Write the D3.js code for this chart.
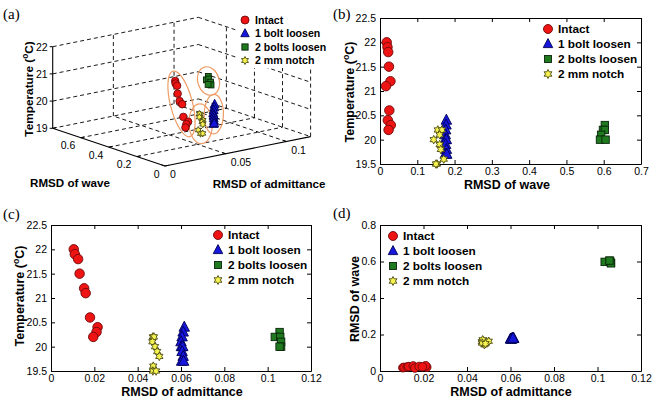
<!DOCTYPE html>
<html><head><meta charset="utf-8">
<script src="https://cdn.jsdelivr.net/npm/d3@7"></script>
<style>
body{margin:0;background:#fff;}
svg text{font-family:"Liberation Sans",Arial,sans-serif;fill:#000;}
</style></head><body>
<svg id="chart" width="660" height="405"></svg>
<script>
// ---------------- data ----------------
const seriesNames = ["Intact", "1 bolt loosen", "2 bolts loosen", "2 mm notch"];

const intactTemp = [22.0, 21.9, 21.8, 21.5, 21.2, 21.1, 20.6, 20.4, 20.3, 20.2];
const intactAdm  = [0.0105, 0.011, 0.0125, 0.0132, 0.0153, 0.016, 0.018, 0.0215, 0.021, 0.0195];
const intactWave = [0.018, 0.02, 0.022, 0.024, 0.028, 0.016, 0.025, 0.021, 0.029, 0.023];

const bolt1Temp = [20.4, 20.3, 20.2, 20.1, 20.0, 20.0, 19.9, 19.8, 19.7, 19.7];
const bolt1Adm  = [0.0615, 0.061, 0.0605, 0.060, 0.0602, 0.0608, 0.0605, 0.061, 0.0603, 0.0612];
const bolt1Wave = [0.178, 0.177, 0.176, 0.175, 0.175, 0.178, 0.176, 0.178, 0.175, 0.179];

const bolt2Temp = [20.3, 20.2, 20.2, 20.1, 20.0, 20.0];
const bolt2Adm  = [0.1055, 0.1033, 0.1058, 0.1062, 0.1062, 0.1055];
const bolt2Wave = [0.603, 0.598, 0.603, 0.593, 0.59, 0.605];

const notchTemp = [20.2, 20.2, 20.1, 20.0, 19.9, 19.8, 19.6, 19.5, 19.5];
const notchAdm  = [0.047, 0.0475, 0.0468, 0.048, 0.049, 0.050, 0.0472, 0.047, 0.0485];
const notchWave = [0.155, 0.166, 0.16, 0.144, 0.16, 0.163, 0.171, 0.153, 0.15];

const waveTicks = [0, 0.1, 0.2, 0.3, 0.4, 0.5, 0.6, 0.7];
const waveTickLabels = ["0", "0.1", "0.2", "0.3", "0.4", "0.5", "0.6", "0.7"];
const admTicks = [0, 0.02, 0.04, 0.06, 0.08, 0.1, 0.12];
const admTickLabels = ["0", "0.02", "0.04", "0.06", "0.08", "0.1", "0.12"];
const tempTicks = [19.5, 20, 20.5, 21, 21.5, 22, 22.5];
const tempTickLabels = ["19.5", "20", "20.5", "21", "21.5", "22", "22.5"];
const waveTicksD = [0, 0.2, 0.4, 0.6, 0.8];
const waveTickLabelsD = ["0", "0.2", "0.4", "0.6", "0.8"];

// 3D panel ticks
const wave3Ticks = [0, 0.2, 0.4, 0.6];
const wave3TickLabels = ["0", "0.2", "0.4", "0.6"];
const adm3Ticks = [0, 0.05, 0.1];
const adm3TickLabels = ["0", "0.05", "0.1"];
const temp3Ticks = [19, 20, 21, 22];
const temp3TickLabels = ["19", "20", "21", "22"];

// ---------------- styles ----------------
const series = [
  {name: seriesNames[0], type: "circle",   temp: intactTemp, adm: intactAdm, wave: intactWave, fill: "#ee1414", stroke: "#6e0808"},
  {name: seriesNames[1], type: "triangle", temp: bolt1Temp,  adm: bolt1Adm,  wave: bolt1Wave,  fill: "#1616dc", stroke: "#000055"},
  {name: seriesNames[2], type: "square",   temp: bolt2Temp,  adm: bolt2Adm,  wave: bolt2Wave,  fill: "#1f7a1f", stroke: "#0a250a"},
  {name: seriesNames[3], type: "hexagram", temp: notchTemp,  adm: notchAdm,  wave: notchWave,  fill: "#f6f250", stroke: "#4a4a10"}
];

const svg = d3.select("#chart");

function hexPath(R) {
  const r = R * 0.55, pts = [];
  for (let i = 0; i < 12; i++) {
    const ang = -Math.PI / 2 + i * Math.PI / 6;
    const rr = i % 2 === 0 ? R : r;
    pts.push([rr * Math.cos(ang), rr * Math.sin(ang)]);
  }
  return "M" + pts.map(p => p[0].toFixed(2) + "," + p[1].toFixed(2)).join("L") + "Z";
}

function marker(g, s, x, y, size) {
  let el;
  if (s.type === "circle") {
    el = g.append("circle").attr("cx", x).attr("cy", y).attr("r", size / 2);
  } else if (s.type === "triangle") {
    const w = size * 1.05, h = size;
    el = g.append("path").attr("d", `M${x},${y - h * 0.6}L${x + w / 2},${y + h * 0.4}L${x - w / 2},${y + h * 0.4}Z`);
  } else if (s.type === "square") {
    const a = size * 0.78;
    el = g.append("rect").attr("x", x - a / 2).attr("y", y - a / 2).attr("width", a).attr("height", a);
  } else {
    el = g.append("path").attr("d", hexPath(size * 0.5)).attr("transform", `translate(${x},${y})`);
  }
  el.attr("fill", s.fill).attr("stroke", s.stroke).attr("stroke-width", 0.9);
}

function legend(g, x, y0, dy, fs, msize) {
  series.forEach((s, i) => {
    const yy = y0 + i * dy;
    marker(g, s, x, yy, msize);
    g.append("text").attr("x", x + 10).attr("y", yy + fs * 0.36)
      .attr("font-size", fs).attr("font-weight", "bold").text(s.name);
  });
}

function tempTitle(g, x, y, fs) {
  const t = g.append("text").attr("transform", `translate(${x},${y}) rotate(-90)`)
    .attr("text-anchor", "middle").attr("font-size", fs).attr("font-weight", "bold");
  t.append("tspan").text("Temperature (");
  t.append("tspan").attr("font-size", fs * 0.7).attr("dy", -fs * 0.4).text("o");
  t.append("tspan").attr("dy", fs * 0.4).text("C)");
}

function panelLabel(x, y, txt) {
  svg.append("text").attr("x", x).attr("y", y).attr("font-size", 15)
    .style("font-family", "'Liberation Serif','Times New Roman',serif").text(txt);
}

// ---------------- 2D panels ----------------
function panel2D(cfg) {
  const g = svg.append("g");
  const x = d3.scaleLinear(cfg.xDomain, [cfg.left, cfg.right]);
  const y = d3.scaleLinear(cfg.yDomain, [cfg.bottom, cfg.top]);
  const style = sel => {
    sel.attr("font-size", 10.5).attr("font-family", "'Liberation Sans',Arial,sans-serif");
    sel.select(".domain").attr("stroke", "#000").attr("stroke-width", 1);
    sel.selectAll(".tick line").attr("stroke", "#000");
  };
  g.append("g").attr("transform", `translate(0,${cfg.bottom})`)
    .call(d3.axisBottom(x).tickValues(cfg.xTicks).tickFormat((d, i) => cfg.xLabels[i])
      .tickSizeInner(-4).tickSizeOuter(0).tickPadding(4)).call(style);
  g.append("g").attr("transform", `translate(0,${cfg.top})`)
    .call(d3.axisTop(x).tickValues(cfg.xTicks).tickFormat(() => "")
      .tickSizeInner(-4).tickSizeOuter(0)).call(style);
  g.append("g").attr("transform", `translate(${cfg.left},0)`)
    .call(d3.axisLeft(y).tickValues(cfg.yTicks).tickFormat((d, i) => cfg.yLabels[i])
      .tickSizeInner(-4).tickSizeOuter(0).tickPadding(4)).call(style);
  g.append("g").attr("transform", `translate(${cfg.right},0)`)
    .call(d3.axisRight(y).tickValues(cfg.yTicks).tickFormat(() => "")
      .tickSizeInner(-4).tickSizeOuter(0)).call(style);

  const pts = g.append("g");
  series.forEach(s => {
    const xs = s[cfg.xKey], ys = s[cfg.yKey];
    xs.forEach((v, i) => marker(pts, s, x(v), y(ys[i]), cfg.msize[s.type]));
  });

  g.append("text").attr("x", cfg.xTitlePos[0]).attr("y", cfg.xTitlePos[1])
    .attr("text-anchor", "middle").attr("font-size", 12.5).attr("font-weight", "bold").text(cfg.xTitle);
  if (cfg.yTitle === "temp") tempTitle(g, cfg.yTitlePos[0], cfg.yTitlePos[1], 12.5);
  else g.append("text").attr("transform", `translate(${cfg.yTitlePos[0]},${cfg.yTitlePos[1]}) rotate(-90)`)
    .attr("text-anchor", "middle").attr("font-size", 12.5).attr("font-weight", "bold").text(cfg.yTitle);

  legend(g.append("g"), cfg.legend[0], cfg.legend[1], 15, 11.8, 9);
}

const msizeBC = {circle: 9.5, triangle: 10, square: 9.5, hexagram: 8.5};

panel2D({
  left: 380, right: 641, top: 18, bottom: 164,
  xDomain: [0, 0.7], yDomain: [19.5, 22.5],
  xTicks: waveTicks, xLabels: waveTickLabels, yTicks: tempTicks, yLabels: tempTickLabels,
  xKey: "wave", yKey: "temp", msize: msizeBC,
  xTitle: "RMSD of wave", xTitlePos: [507, 188.5], yTitle: "temp", yTitlePos: [354, 92],
  legend: [548, 29]
});

panel2D({
  left: 51, right: 311, top: 225, bottom: 371,
  xDomain: [0, 0.12], yDomain: [19.5, 22.5],
  xTicks: admTicks, xLabels: admTickLabels, yTicks: tempTicks, yLabels: tempTickLabels,
  xKey: "adm", yKey: "temp", msize: msizeBC,
  xTitle: "RMSD of admittance", xTitlePos: [182, 395.5], yTitle: "temp", yTitlePos: [24, 296],
  legend: [218, 235]
});

panel2D({
  left: 380, right: 641, top: 225, bottom: 371,
  xDomain: [0, 0.12], yDomain: [0, 0.8],
  xTicks: admTicks, xLabels: admTickLabels, yTicks: waveTicksD, yLabels: waveTickLabelsD,
  xKey: "adm", yKey: "wave", msize: {circle: 8.5, triangle: 10, square: 9.5, hexagram: 8.5},
  xTitle: "RMSD of admittance", xTitlePos: [511, 395.5], yTitle: "RMSD of wave", yTitlePos: [359, 299],
  legend: [393, 236]
});

// ---------------- 3D panel (a) ----------------
(function () {
  const g = svg.append("g");
  const bx = 165, by = 166;
  const wX = d3.scaleLinear([0, 0.8], [0, -112.3]);
  const wY = d3.scaleLinear([0, 0.8], [0, -37.7]);
  const aX = d3.scaleLinear([0, 0.12], [0, 145.6]);
  const aY = d3.scaleLinear([0, 0.12], [0, -29.4]);
  const tY = d3.scaleLinear([19, 22], [0, -81.6]);
  const P = (w, a, t) => [bx + wX(w) + aX(a), by + wY(w) + aY(a) + tY(t)];
  const W = 0.8, A = 0.12, T0 = 19, T1 = 22;

  const dashed = [];
  [0.2, 0.4, 0.6, 0.8].forEach(w => dashed.push([P(w, 0, T0), P(w, A, T0)]));
  [0.05, 0.1].forEach(a => dashed.push([P(0, a, T0), P(W, a, T0)]));
  [20, 21, 22].forEach(t => dashed.push([P(W, 0, t), P(W, A, t)]));
  [0.05, 0.1].forEach(a => dashed.push([P(W, a, T0), P(W, a, T1)]));
  [19, 20, 21, 22].forEach(t => dashed.push([P(W, A, t), P(0, A, t)]));
  [0, 0.2, 0.4, 0.6].forEach(w => dashed.push([P(w, A, T0), P(w, A, T1)]));
  const line = d3.line();
  g.append("g").selectAll("path").data(dashed).join("path")
    .attr("d", line).attr("fill", "none").attr("stroke", "#000")
    .attr("stroke-width", 0.9).attr("stroke-dasharray", "4,3");

  const solid = [[P(W, 0, T0), P(W, 0, T1)], [P(W, 0, T0), P(0, 0, T0)], [P(0, 0, T0), P(0, A, T0)]];
  g.append("g").selectAll("path").data(solid).join("path")
    .attr("d", line).attr("fill", "none").attr("stroke", "#000").attr("stroke-width", 1.1);

  // ticks
  const tk = g.append("g").attr("stroke", "#000").attr("stroke-width", 1);
  temp3Ticks.forEach(t => { const p = P(W, 0, t); tk.append("line").attr("x1", p[0] - 3).attr("x2", p[0]).attr("y1", p[1]).attr("y2", p[1]); });
  wave3Ticks.concat([0.8]).forEach(w => { const p = P(w, 0, T0), q = P(w, 0.003, T0); tk.append("line").attr("x1", p[0]).attr("y1", p[1]).attr("x2", q[0]).attr("y2", q[1]); });
  adm3Ticks.forEach(a => { const p = P(0, a, T0), q = P(0.025, a, T0); tk.append("line").attr("x1", p[0]).attr("y1", p[1]).attr("x2", q[0]).attr("y2", q[1]); });

  const tl = g.append("g").attr("font-size", 10.5);
  temp3Ticks.forEach((t, i) => { const p = P(W, 0, t); tl.append("text").attr("x", p[0] - 5).attr("y", p[1] + 3.8).attr("text-anchor", "end").text(temp3TickLabels[i]); });
  wave3Ticks.forEach((w, i) => { const p = P(w, 0, T0); tl.append("text").attr("x", p[0] - 5.5).attr("y", p[1] + 11.5).attr("text-anchor", "end").text(wave3TickLabels[i]); });
  adm3Ticks.forEach((a, i) => { const p = P(0, a, T0); tl.append("text").attr("x", p[0] + 5).attr("y", p[1] + 12).attr("text-anchor", "start").text(adm3TickLabels[i]); });

  // ellipses around each cluster (from projected data)
  const eg = g.append("g");
  series.forEach(s => {
    const pts = s.temp.map((t, i) => P(s.wave[i], s.adm[i], t));
    const mx = d3.mean(pts, p => p[0]), my = d3.mean(pts, p => p[1]);
    let sxx = 0, syy = 0, sxy = 0;
    pts.forEach(p => { const dx = p[0] - mx, dy = p[1] - my; sxx += dx * dx; syy += dy * dy; sxy += dx * dy; });
    const th = 0.5 * Math.atan2(2 * sxy, sxx - syy); // major axis angle
    const ux = Math.cos(th), uy = Math.sin(th);
    const maj = pts.map(p => (p[0] - mx) * ux + (p[1] - my) * uy);
    const min = pts.map(p => -(p[0] - mx) * uy + (p[1] - my) * ux);
    const cMaj = (d3.max(maj) + d3.min(maj)) / 2, cMin = (d3.max(min) + d3.min(min)) / 2;
    const cx = mx + cMaj * ux - cMin * uy, cy = my + cMaj * uy + cMin * ux;
    const rMaj = (d3.max(maj) - d3.min(maj)) / 2 + 10, rMin = (d3.max(min) - d3.min(min)) / 2 + 9;
    eg.append("ellipse").attr("cx", 0).attr("cy", 0).attr("rx", rMaj).attr("ry", rMin)
      .attr("transform", `translate(${cx},${cy}) rotate(${th * 180 / Math.PI})`)
      .attr("fill", "none").attr("stroke", "#ee9d66").attr("stroke-width", 1.2);
  });

  const mg = g.append("g");
  const ms3 = {circle: 7.5, triangle: 8.5, square: 7.5, hexagram: 7};
  series.forEach(s => s.temp.forEach((t, i) => {
    const p = P(s.wave[i], s.adm[i], t);
    marker(mg, s, p[0], p[1], ms3[s.type]);
  }));

  g.append("rect").attr("x", 238).attr("y", 9).attr("width", 93).attr("height", 59).attr("fill", "#fff");
  legend(g.append("g"), 245, 20, 13.5, 10.6, 8);

  tempTitle(g, 32.5, 89, 11.8);
  g.append("text").attr("x", 70).attr("y", 187).attr("text-anchor", "middle")
    .attr("font-size", 11.6).attr("font-weight", "bold").text("RMSD of wave");
  g.append("text").attr("x", 269).attr("y", 188).attr("text-anchor", "middle")
    .attr("font-size", 11.6).attr("font-weight", "bold").text("RMSD of admittance");
})();

panelLabel(3, 19, "(a)");
panelLabel(333, 18.5, "(b)");
panelLabel(3, 219, "(c)");
panelLabel(333, 218, "(d)");
</script>
</body></html>
